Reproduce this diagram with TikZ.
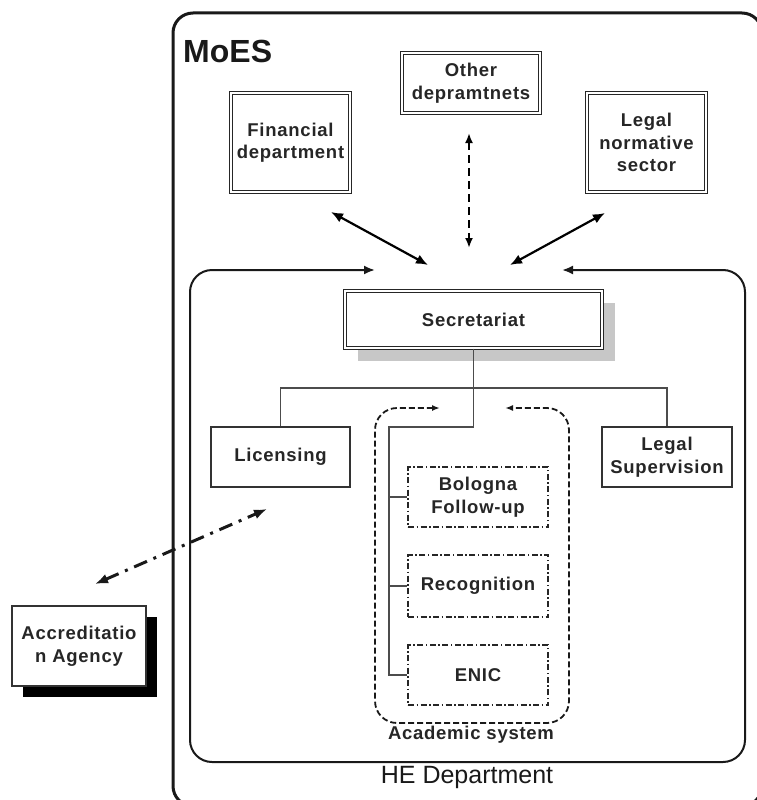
\documentclass[tikz,border=0pt]{standalone}
\usepackage{fontspec}
\setmainfont{Liberation Sans}
\usetikzlibrary{arrows.meta}
\tikzset{
  txt/.style={font=\fontsize{18.5}{22.5}\selectfont\bfseries\addfontfeatures{LetterSpace=4}, text=black!85, align=center, inner sep=0pt},
  dblbox/.style={txt, draw=black!85, line width=1.3pt, double=white, double distance=1.2pt},
  plainbox/.style={txt, draw=black!80, line width=1.3pt, fill=white},
  dotbox/.style={txt, draw=black!85, line width=1.3pt, dash pattern=on 6pt off 2.5pt on 1.5pt off 2.5pt},
  treeline/.style={draw=black!70, line width=1.4pt},
  bigarrow/.style={line width=2.2pt, {Latex[length=12pt,width=10pt]}-{Latex[length=12pt,width=10pt]}},
}
\begin{document}
\begin{tikzpicture}[x=1pt,y=-1pt]
\useasboundingbox (0,0) rectangle (757,800);
% outer MoES frame (clipped)
\begin{scope}
  \clip (0,0) rectangle (757,800);
  \draw[line width=3pt, black!90, rounded corners=20pt] (173,13) rectangle (762,806);
\end{scope}
\node[font=\fontsize{32}{36}\selectfont\bfseries, text=black!90, anchor=west, inner sep=0pt] (moes) at (183,51) {MoES};

% top boxes
\node[dblbox, minimum width=119pt, minimum height=99pt] (fin) at (290.5,142.5) {Financial\\department};
\node[dblbox, minimum width=138pt, minimum height=60pt] (oth) at (471,83) {Other\\depramtnets};
\node[dblbox, minimum width=119pt, minimum height=99pt] (legn) at (646.5,142.5) {Legal\\normative\\sector};

% arrows toward HE department
\coordinate (f1) at (331,212); \coordinate (f2) at (428,265);
\coordinate (o1) at (469,133); \coordinate (o2) at (469,248);
\coordinate (l1) at (605,213); \coordinate (l2) at (510,265);
\draw[bigarrow] (f1) -- (f2);
\draw[line width=2.2pt, dash pattern=on 8pt off 5pt, {Latex[length=10pt,width=8pt]}-{Latex[length=10pt,width=8pt]}] (o1) -- (o2);
\draw[bigarrow] (l1) -- (l2);

% HE department frame with inward arrows
\coordinate (heA) at (375,270); \coordinate (heB) at (562,270);
\draw[line width=2pt, black!90, rounded corners=22pt, {Latex[length=11pt,width=9pt]}-{Latex[length=11pt,width=9pt]}]
  (heA) -- (190,270) -- (190,762) -- (745,762) -- (745,270) -- (heB);
\node[font=\fontsize{25}{28}\selectfont, text=black!90, inner sep=0pt] (helbl) at (467,777) {HE Department};

% Secretariat with shadow
\fill[black!22] (358,303) rectangle (615,361);
\node[dblbox, fill=white, minimum width=257pt, minimum height=57pt] (sec) at (473.5,319.5) {Secretariat};

% Licensing and Legal supervision
\node[plainbox, minimum width=139pt, minimum height=60pt] (lic) at (280.5,457) {Licensing};
\node[plainbox, minimum width=130pt, minimum height=60pt] (lsup) at (667,457) {Legal\\Supervision};

% Academic system frame
\coordinate (acA) at (440,408); \coordinate (acB) at (505,408);
\draw[line width=1.8pt, black!90, dash pattern=on 6pt off 3pt, rounded corners=22pt, {Latex[length=8pt,width=6pt]}-{Latex[length=8pt,width=6pt]}]
  (acA) -- (375,408) -- (375,723) -- (569,723) -- (569,408) -- (acB);
\node[txt] (aclbl) at (471,735) {Academic system};

\node[dotbox, minimum width=140pt, minimum height=60pt] (bol) at (478,497) {Bologna\\Follow-up};
\node[dotbox, minimum width=140pt, minimum height=62pt] (rec) at (478,586) {Recognition};
\node[dotbox, minimum width=140pt, minimum height=60pt] (enic) at (478,675) {ENIC};

% tree
\coordinate (hbar) at (0,388);
\coordinate (ibar) at (0,427);
\coordinate (ivert) at (389,0);
\draw[treeline] (sec.south) -- (sec.south |- hbar);
\draw[treeline] (lic.north) -- (lic.north |- hbar) -- (lsup.north |- hbar) -- (lsup.north);
\draw[treeline] (sec.south |- hbar) -- (sec.south |- ibar) -- (ivert |- ibar) -- (ivert |- enic.west) -- (enic.west);
\draw[treeline] (ivert |- bol.west) -- (bol.west);
\draw[treeline] (ivert |- rec.west) -- (rec.west);

% Accreditation agency
\fill[black] (23,617) rectangle (157,697);
\node[plainbox, minimum width=134pt, minimum height=80pt] (acc) at (79,646) {Accreditatio\\n Agency};
\coordinate (d1) at (95,584); \coordinate (d2) at (267,509);
\draw[line width=3pt, black!90, dash pattern=on 14pt off 7pt on 3pt off 7pt, {Latex[length=13pt,width=10pt]}-{Latex[length=13pt,width=10pt]}] (d1) -- (d2);
\end{tikzpicture}
\end{document}
